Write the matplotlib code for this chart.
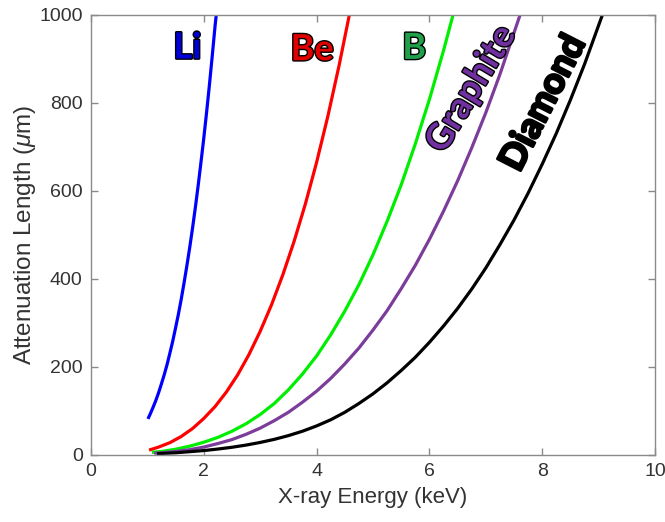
import matplotlib
matplotlib.use('Agg')
import matplotlib.pyplot as plt
import matplotlib.patheffects as pe

plt.rcParams['font.family'] = ['Liberation Sans', 'DejaVu Sans']
plt.rcParams['mathtext.fontset'] = 'custom'
plt.rcParams['mathtext.it'] = 'Liberation Sans:italic'
plt.rcParams['mathtext.rm'] = 'Liberation Sans'

# values (energy in keV, attenuation length in um)
li_E = [1.01, 1.05, 1.10, 1.15, 1.20, 1.25, 1.30, 1.35, 1.40, 1.45, 1.50, 1.55, 1.60,
        1.65, 1.70, 1.75, 1.80, 1.85, 1.90, 1.95, 2.00, 2.05, 2.10, 2.15, 2.20, 2.225]
li_L = [82, 93, 108, 124, 142, 162, 183, 206, 232, 259, 289, 320, 354,
        391, 430, 471, 515, 562, 612, 665, 720, 779, 841, 907, 975, 1005]

be_E = [1.03, 1.20, 1.40, 1.60, 1.80, 2.00, 2.20, 2.40, 2.60, 2.80, 3.00, 3.20, 3.40,
        3.60, 3.80, 4.00, 4.20, 4.40, 4.585]
be_L = [11, 18, 28, 42, 60, 83, 110, 143, 182, 228, 281, 341, 409,
        485, 570, 665, 770, 886, 1003]

b_E = [1.08, 1.25, 1.50, 1.75, 2.00, 2.25, 2.50, 2.75, 3.00, 3.25, 3.50, 3.75, 4.00,
       4.25, 4.50, 4.75, 5.00, 5.25, 5.50, 5.75, 6.00, 6.25, 6.425]
b_L = [6, 8, 13, 20, 29, 40, 54, 71, 92, 117, 148, 184, 225,
       273, 327, 387, 455, 531, 614, 707, 808, 919, 1003]

gr_E = [1.12, 1.25, 1.50, 1.75, 2.00, 2.25, 2.50, 2.75, 3.00, 3.25, 3.50, 3.75, 4.00,
        4.25, 4.50, 4.75, 5.00, 5.25, 5.50, 5.75, 6.00, 6.25, 6.50, 6.75, 7.00, 7.25, 7.615]
gr_L = [4, 5, 8, 12, 18, 26, 35, 47, 61, 78, 97, 120, 145,
        174, 207, 243, 284, 328, 378, 431, 490, 554, 623, 698, 778, 865, 1003]

dia_E = [1.17, 1.50, 1.75, 2.00, 2.25, 2.50, 2.75, 3.00, 3.25, 3.50, 3.75, 4.00, 4.25,
         4.50, 4.75, 5.00, 5.25, 5.50, 5.75, 6.00, 6.25, 6.50, 6.75, 7.00, 7.25, 7.50,
         7.75, 8.00, 8.25, 8.50, 8.75, 9.075]
dia_L = [3, 5, 7.5, 10, 13.5, 17.5, 22.5, 28.5, 35.5, 44, 54, 66, 80,
         97, 117, 139, 164, 192, 222, 256, 293, 333, 377, 425, 478, 534,
         595, 661, 731, 807, 888, 1003]

names = ['Li', 'Be', 'B', 'Graphite', 'Diamond']
line_colors = ['#0000ff', '#ff0000', '#00ee00', '#7b3c9a', '#000000']
label_colors = ['#0000dd', '#e00000', '#20a04a', '#7030a0', '#000000']
label_pos = [(1.71, 925), (3.92, 921), (5.73, 924), (6.74, 832), (8.02, 800)]
label_rot = [0, 0, 0, 59, 63]

fig = plt.figure(figsize=(6.65, 5.22), dpi=100)
ax = fig.add_axes([0.1368, 0.1284, 0.8482, 0.8429])

series = [(li_E, li_L), (be_E, be_L), (b_E, b_L), (gr_E, gr_L), (dia_E, dia_L)]
for (E, L), c in zip(series, line_colors):
    ax.plot(E, L, color=c, lw=2.3, solid_capstyle='butt', solid_joinstyle='round')

for name, (x, y), c, r in zip(names, label_pos, label_colors, label_rot):
    ax.text(x, y, name, color=c, rotation=r, ha='center', va='center',
            fontsize=26, fontweight='bold', family=['Lato', 'DejaVu Sans'],
            rotation_mode='anchor',
            path_effects=[pe.withStroke(linewidth=2.0, foreground='black')])

ax.set_xlim(0, 10)
ax.set_ylim(0, 1000)
ax.set_xticks([0, 2, 4, 6, 8, 10])
ax.set_yticks([0, 200, 400, 600, 800, 1000])

axis_grey = '#8a8a8a'
text_grey = '#333333'
for s in ax.spines.values():
    s.set_color(axis_grey)
    s.set_linewidth(1.0)
ax.tick_params(direction='in', length=5, width=1.0, color=axis_grey,
               labelcolor=text_grey, labelsize=14, top=True, right=True, pad=6)

ax.set_xlabel('X-ray Energy (keV)', fontsize=16, color=text_grey, labelpad=5)
ax.set_ylabel(r'Attenuation Length ($\mu$m)', fontsize=17.5, color=text_grey, labelpad=1)

fig.savefig('out.png', dpi=100)
